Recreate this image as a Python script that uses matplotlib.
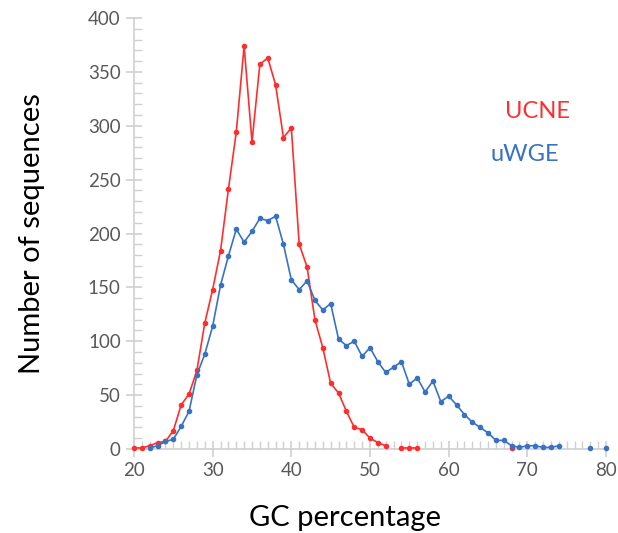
import numpy as np
import matplotlib
matplotlib.use("Agg")
import matplotlib.pyplot as plt
from matplotlib.ticker import MultipleLocator

# GC percentage bins and counts (NaN = no point / gap in line)
gc = np.arange(20, 81)

ucne = [1, 1, 3, 6, 7, 17, 41, 51, 73, 117,
        148, 184, 241, 294, 374, 285, 357, 363, 338, 289,
        298, 190, 169, 120, 94, 61, 52, 35, 20, 18,
        10, 6, 3, np.nan, 1, 1, 1, np.nan, np.nan, np.nan,
        np.nan, np.nan, np.nan, np.nan, np.nan, np.nan, np.nan, np.nan, 1, np.nan,
        np.nan, np.nan, np.nan, np.nan, np.nan, np.nan, np.nan, np.nan, np.nan, np.nan,
        np.nan]

uwge = [np.nan, np.nan, 1, 3, 7, 9, 21, 35, 69, 88,
        114, 152, 179, 204, 192, 202, 214, 212, 216, 190,
        157, 148, 156, 138, 129, 135, 102, 96, 100, 86,
        94, 81, 71, 76, 81, 60, 66, 53, 63, 44,
        49, 41, 32, 25, 20, 15, 8, 8, 3, 1.5,
        3, 3, 1.5, 1.5, 3, np.nan, np.nan, np.nan, 1, np.nan,
        1]

red = "#ff2e2e"
blue = "#3872c2"
grey_axis = "#d0d0d0"
grey_text = "#595959"

plt.rcParams["font.family"] = ["Lato", "DejaVu Sans"]

fig = plt.figure(figsize=(6.18, 5.33), dpi=100)
ax = fig.add_axes([0.2168, 0.1576, 0.7638, 0.8086])

ax.plot(gc, ucne, color=red, lw=1.2, marker="o", ms=3, clip_on=False, zorder=3)
ax.plot(gc, uwge, color=blue, lw=1.2, marker="o", ms=3, clip_on=False, zorder=4)

ax.set_xlim(20, 80)
ax.set_ylim(0, 400)

for s in ["top", "right"]:
    ax.spines[s].set_visible(False)
for s in ["left", "bottom"]:
    ax.spines[s].set_color(grey_axis)
    ax.spines[s].set_linewidth(1.2)

ax.xaxis.set_major_locator(MultipleLocator(10))
ax.xaxis.set_minor_locator(MultipleLocator(1))
ax.yaxis.set_major_locator(MultipleLocator(50))
ax.yaxis.set_minor_locator(MultipleLocator(10))

ax.tick_params(which="major", direction="inout", length=11, width=1.2,
               color=grey_axis, labelcolor=grey_text, labelsize=13.5, pad=4)
ax.tick_params(which="minor", direction="in", length=6, width=1.0, color=grey_axis)

ax.set_xlabel("GC percentage", fontsize=21, color="black")
ax.xaxis.set_label_coords(0.447, -0.13)
ax.set_ylabel("Number of sequences", fontsize=21, color="black", labelpad=31)

ax.text(67.2, 313, "UCNE", color=red, fontsize=17, ha="left", va="center")
ax.text(65.3, 273, "uWGE", color=blue, fontsize=17, ha="left", va="center")

fig.savefig("out.png", dpi=100)
